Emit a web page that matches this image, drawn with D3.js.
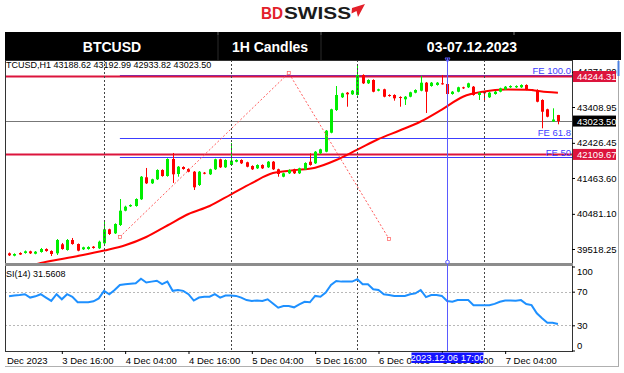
<!DOCTYPE html>
<html>
<head>
<meta charset="utf-8">
<script src="https://cdn.jsdelivr.net/npm/d3@7"></script>
<style>
  body { margin: 0; background: #fff; }
  svg { display: block; }
  text { font-family: 'Liberation Sans', Arial, sans-serif; }
</style>
</head>
<body>
<svg id="chart" width="624" height="373"></svg>
<script>
// hourly bars, first one 3 Dec 06:00
var firstBar = new Date(Date.UTC(2023, 11, 3, 6))

var open = [39400, 39335, 39409, 39409, 39455, 39389, 39436, 39518, 39463, 39400, 39647, 39491, 39765, 39655, 39510, 39518, 39581, 39537,
  39674, 40058, 39948, 40176, 40568, 40688, 40696, 40880, 41483, 41318, 41428, 41683, 41518, 41984, 41573, 41765, 41710, 41636, 41272, 41609,
  41565, 41702, 41976, 41757, 41820, 41910, 41957, 41894, 41792, 41729, 41820, 41757, 41910, 41702, 41499, 41592, 41702, 41592, 41702, 41910,
  41866, 42140, 42184, 42705, 43327, 43675, 43801, 43757, 43738, 44286, 44058, 44149, 43856, 43894, 43738, 43738, 43683, 43620, 43691, 43801,
  43856, 44075, 43984, 44012, 44058, 44039, 43765, 43828, 43949, 43949, 43965, 43738, 43828, 43675, 43765, 43828, 43894, 43949, 43949, 43949,
  44012, 43883, 43875, 43601, 43346, 43012, 43188.62]
var high = [39422, 39400, 39428, 39477, 39472, 39463, 39546, 39537, 39482, 39792, 39683, 39792, 39820, 39669, 39581, 39592, 39600, 39746,
  40266, 40074, 40222, 40888, 40704, 40743, 40907, 41518, 41738, 41444, 41702, 41702, 42003, 42149, 41792, 41784, 41729, 41655, 41655, 41628,
  41718, 41992, 41992, 41976, 42423, 41976, 41976, 41910, 41811, 41839, 41839, 41929, 41929, 41718, 41609, 41702, 41718, 41746, 41894, 42140,
  42203, 42266, 42779, 43362, 43984, 43801, 43820, 43875, 44532, 44305, 44168, 44168, 43910, 43910, 43757, 43757, 43702, 43710, 43828, 43894,
  44258, 44094, 44094, 44094, 44286, 44058, 43847, 43965, 43965, 44075, 43984, 43820, 43847, 43820, 43847, 43938, 43984, 44004, 44004, 44031,
  44031, 43902, 43894, 43620, 43362, 43373, 43192.99]
var low = [39326, 39318, 39354, 39389, 39381, 39373, 39417, 39444, 39326, 39354, 39499, 39472, 39636, 39455, 39491, 39499, 39527, 39518,
  39628, 39902, 39929, 40148, 40551, 40669, 40677, 40861, 41299, 41299, 41409, 41499, 41499, 41327, 41499, 41691, 41620, 41135, 41244, 41565,
  41546, 41683, 41738, 41738, 41801, 41894, 41847, 41757, 41683, 41710, 41710, 41738, 41683, 41499, 41483, 41573, 41573, 41573, 41683, 41801,
  41847, 42121, 42168, 42688, 43299, 43656, 43417, 43738, 43719, 44039, 44039, 43812, 43839, 43675, 43691, 43582, 43417, 43464, 43675, 43784,
  43839, 43245, 43965, 43993, 44020, 43746, 43746, 43812, 43902, 43929, 43719, 43601, 43601, 43656, 43746, 43812, 43875, 43929, 43929, 43929,
  43866, 43847, 43538, 42825, 43127, 42998, 42933.82]
var close = [39345, 39381, 39367, 39455, 39400, 39444, 39518, 39463, 39381, 39765, 39518, 39765, 39655, 39472, 39565, 39573, 39546, 39718,
  40058, 39929, 40203, 40568, 40677, 40724, 40888, 41499, 41318, 41428, 41683, 41518, 41984, 41565, 41773, 41710, 41636, 41209, 41636, 41581,
  41702, 41976, 41757, 41957, 41938, 41957, 41866, 41773, 41702, 41820, 41729, 41910, 41702, 41573, 41592, 41683, 41592, 41729, 41874, 41820,
  42184, 42250, 42760, 43346, 43738, 43784, 43757, 43856, 44286, 44058, 44149, 43828, 43894, 43691, 43710, 43647, 43664, 43691, 43812, 43875,
  44075, 43828, 44075, 44075, 44039, 43765, 43828, 43949, 43921, 44058, 43738, 43801, 43784, 43801, 43828, 43921, 43965, 43984, 43984, 44012,
  43883, 43866, 43554, 43280, 43143, 43066, 43023.50]
var rsi = [64.5, 65.5, 66, 67, 63, 64.5, 67, 63, 59, 67, 61, 67, 64, 57.5, 57.4, 57.4, 58.5, 62,
  71, 67, 72, 78, 79, 79.5, 80, 85.5, 81, 82, 83, 79, 82, 71, 72, 71, 67, 59.5, 63, 64,
  64, 67, 63, 65.5, 65.5, 65, 63, 60, 59, 59.5, 59, 61, 56, 51, 53, 53, 51.4, 55, 58, 57.4,
  65, 64, 69, 78, 82.7, 82, 82, 82, 84.8, 78.8, 78.8, 72.8, 72, 67, 66, 65, 65, 65, 67, 68,
  72, 63.5, 66, 66, 65, 59, 58, 60, 60, 60, 54, 54, 54, 54, 55.5, 58, 59.5, 59.5, 59.3, 60,
  55.4, 54, 44.3, 38.3, 33, 33, 31.5608]

// moving average read at some bars (bar index -> value)
var maIndex = [4, 6, 10, 14, 18, 22, 26, 30, 34, 38, 42, 46, 50, 54, 58, 62, 66, 70, 74, 78, 82, 86, 90, 94, 98, 102, 104]
var maValues = [39052, 39135, 39244, 39354, 39477, 39620, 39847, 40162, 40477, 40696, 41011, 41326, 41600, 41675, 41746, 41957,
  42241, 42532, 42765, 43012, 43340, 43691, 43834, 43888, 43880, 43820, 43801]

var priceTicks = [39518.25, 40481.10, 41463.60, 42426.45, 43408.95, 44371.80]
var rsiTicks = [100, 70, 30, 0]
var rsiLevels = [70, 30]
var timeTicks = [
  new Date(Date.UTC(2023, 11, 3, 4)), new Date(Date.UTC(2023, 11, 3, 16)),
  new Date(Date.UTC(2023, 11, 4, 4)), new Date(Date.UTC(2023, 11, 4, 16)),
  new Date(Date.UTC(2023, 11, 5, 4)), new Date(Date.UTC(2023, 11, 5, 16)),
  new Date(Date.UTC(2023, 11, 6, 4)), new Date(Date.UTC(2023, 11, 6, 16)),
  new Date(Date.UTC(2023, 11, 7, 4))
]
var hLines = [44244.31, 42109.67]
var lastPrice = 43023.50
var crossTime = new Date(Date.UTC(2023, 11, 6, 17))
// fibo expansion anchors (bar index, price)
var fiboIndex = [21, 53, 72]
var fiboPrice = [39850, 44341, 39792]
var feLevels = [100, 61.8, 50]

var headers = [
  { text: 'BTCUSD', x: 112 },
  { text: '1H Candles', x: 270 },
  { text: '03-07.12.2023', x: 472 }
]

var svg = d3.select('#chart')
var left = 5
var right = 572
var priceTop = 60
var priceBottom = 263
var rsiTop = 266.5
var rsiBottom = 350.5

var x = d3.scaleUtc()
  .domain([new Date(Date.UTC(2023, 11, 3, 5, 14)), new Date(Date.UTC(2023, 11, 7, 16, 40))])
  .range([left, right])
var y = d3.scaleLinear()
  .domain([39134.55, 44696.75])
  .range([priceBottom, priceTop])
var ry = d3.scaleLinear()
  .domain([0, 100])
  .range([rsiBottom, rsiTop])

var barTime = function (i) { return d3.utcHour.offset(firstBar, i) }

var defs = svg.append('defs')
defs.append('clipPath').attr('id', 'clipPrice')
  .append('rect').attr('x', left).attr('y', priceTop).attr('width', right - left).attr('height', priceBottom - priceTop)
defs.append('clipPath').attr('id', 'clipRsi')
  .append('rect').attr('x', left).attr('y', 266).attr('width', right - left).attr('height', 85)
defs.append('clipPath').attr('id', 'clipTime')
  .append('rect').attr('x', left + 1).attr('y', 350).attr('width', 615).attr('height', 20)

// logo
svg.append('text')
  .attr('x', 261)
  .attr('y', 18.5)
  .attr('font-size', 16)
  .attr('font-weight', 'bold')
  .attr('fill', '#e3202a')
  .attr('textLength', 22)
  .attr('lengthAdjust', 'spacingAndGlyphs')
  .text('BD')
svg.append('text')
  .attr('x', 284)
  .attr('y', 18.5)
  .attr('font-size', 16)
  .attr('font-weight', 'bold')
  .attr('fill', '#1b1b1b')
  .attr('textLength', 67)
  .attr('lengthAdjust', 'spacingAndGlyphs')
  .text('SWISS')
svg.append('path')
  .attr('d', 'M352,8 L365,4 L358,17 L356.5,11 L351.5,13.5 Z')
  .attr('fill', '#e3202a')

// header bar
svg.append('rect')
  .attr('x', 5).attr('y', 32).attr('width', 616).attr('height', 28)
  .attr('fill', '#000')
svg.selectAll('.divider')
  .data([218, 321, 514])
  .join('line')
  .attr('class', 'divider')
  .attr('x1', (d) => d).attr('x2', (d) => d)
  .attr('y1', 32).attr('y2', 35)
  .attr('stroke', '#777')
svg.selectAll('.divider2')
  .data([218, 321])
  .join('line')
  .attr('class', 'divider2')
  .attr('x1', (d) => d).attr('x2', (d) => d)
  .attr('y1', 32).attr('y2', 60)
  .attr('stroke', '#2a2a2a')
svg.selectAll('.head')
  .data(headers)
  .join('text')
  .attr('class', 'head')
  .attr('x', (d) => d.x)
  .attr('y', 52)
  .attr('text-anchor', 'middle')
  .attr('fill', '#fff')
  .attr('font-size', 14)
  .attr('font-weight', 'bold')
  .text((d) => d.text)

// price panel
var price = svg.append('g').attr('clip-path', 'url(#clipPrice)')

var days = d3.utcDays(x.domain()[0], x.domain()[1])

// period separators over both panels
svg.append('g')
  .selectAll('line')
  .data(days)
  .join('line')
  .attr('x1', (d) => Math.round(x(d)) + 0.5)
  .attr('x2', (d) => Math.round(x(d)) + 0.5)
  .attr('y1', priceTop)
  .attr('y2', 351)
  .attr('stroke', '#444')
  .attr('stroke-dasharray', '2,2')

price.append('line')
  .attr('x1', left).attr('x2', right)
  .attr('y1', Math.round(y(lastPrice)) + 0.5)
  .attr('y2', Math.round(y(lastPrice)) + 0.5)
  .attr('stroke', '#777')

// fibo expansion levels
var fiboRange = fiboPrice[1] - fiboPrice[0]
var feData = feLevels.map(function (r) {
  return { r: r, p: fiboPrice[2] + fiboRange * r / 100 }
})
price.selectAll('.fe')
  .data(feData)
  .join('line')
  .attr('class', 'fe')
  .attr('x1', x(barTime(fiboIndex[0])))
  .attr('x2', right)
  .attr('y1', (d) => Math.round(y(d.p)) + 0.5)
  .attr('y2', (d) => Math.round(y(d.p)) + 0.5)
  .attr('stroke', '#3c3cff')

price.selectAll('.hline')
  .data(hLines)
  .join('line')
  .attr('class', 'hline')
  .attr('x1', left).attr('x2', right)
  .attr('y1', (d) => y(d))
  .attr('y2', (d) => y(d))
  .attr('stroke', '#dc143c')
  .attr('stroke-width', 2)

price.selectAll('.felabel')
  .data(feData)
  .join('text')
  .attr('class', 'felabel')
  .attr('x', right - 1)
  .attr('y', (d) => y(d.p) - 1.5)
  .attr('text-anchor', 'end')
  .attr('font-size', 9.5)
  .attr('fill', '#3c3cff')
  .text((d) => 'FE ' + (d.r === 100 ? '100.0' : d.r))

// moving average
var ma = maIndex.map(function (d, i) { return { t: barTime(d), v: maValues[i] } })
price.append('path')
  .datum(ma)
  .attr('fill', 'none')
  .attr('stroke', '#ff0000')
  .attr('stroke-width', 2)
  .attr('d', d3.line().curve(d3.curveMonotoneX).x((d) => x(d.t)).y((d) => y(d.v)))

// candles
var candles = open.map(function (o, i) {
  return { t: barTime(i), o: o, h: high[i], l: low[i], c: close[i] }
})
var colorFor = function (d) { return d.c >= d.o ? '#00ee00' : '#ff0000' }

var bar = price.append('g')
  .selectAll('g')
  .data(candles)
  .join('g')
  .attr('transform', (d) => 'translate(' + Math.round(x(d.t)) + ',0)')
bar.append('line')
  .attr('x1', 0.5).attr('x2', 0.5)
  .attr('y1', (d) => y(d.h))
  .attr('y2', (d) => y(d.l))
  .attr('stroke', colorFor)
bar.append('rect')
  .attr('x', -1)
  .attr('width', 3)
  .attr('y', (d) => y(Math.max(d.o, d.c)))
  .attr('height', (d) => Math.max(1, Math.abs(y(d.o) - y(d.c))))
  .attr('fill', colorFor)

// fibo dotted trend
var fibo = fiboIndex.map(function (d, i) { return { t: barTime(d), v: fiboPrice[i] } })
price.append('path')
  .datum(fibo)
  .attr('fill', 'none')
  .attr('stroke', '#ff5c5c')
  .attr('stroke-dasharray', '2,2')
  .attr('d', d3.line().x((d) => x(d.t)).y((d) => y(d.v)))
price.selectAll('.anchor')
  .data(fibo)
  .join('rect')
  .attr('class', 'anchor')
  .attr('x', (d) => x(d.t) - 1.5)
  .attr('y', (d) => y(d.v) - 1.5)
  .attr('width', 3).attr('height', 3)
  .attr('fill', '#fff')
  .attr('stroke', '#ff5c5c')
  .attr('stroke-width', 0.7)

price.append('text')
  .attr('x', 6)
  .attr('y', 67.5)
  .attr('font-size', 9)
  .attr('fill', '#000')
  .text('TCUSD,H1  43188.62 43192.99 42933.82 43023.50')

// rsi panel
var rsiG = svg.append('g').attr('clip-path', 'url(#clipRsi)')
rsiG.selectAll('.level')
  .data(rsiLevels)
  .join('line')
  .attr('class', 'level')
  .attr('x1', left).attr('x2', right)
  .attr('y1', (d) => Math.round(ry(d)) + 0.5)
  .attr('y2', (d) => Math.round(ry(d)) + 0.5)
  .attr('stroke', '#b8b8b8')
  .attr('stroke-dasharray', '2,2')
rsiG.append('path')
  .datum(rsi)
  .attr('fill', 'none')
  .attr('stroke', '#1e90ff')
  .attr('stroke-width', 2)
  .attr('d', d3.line().x((d, i) => x(barTime(i))).y((d) => ry(d)))
rsiG.append('text')
  .attr('x', 6)
  .attr('y', 276.5)
  .attr('font-size', 9)
  .attr('fill', '#000')
  .text('SI(14) 31.5608')

// frames
svg.append('rect')
  .attr('x', left + 0.5).attr('y', priceTop + 0.5)
  .attr('width', right - left).attr('height', 351 - priceTop)
  .attr('fill', 'none')
  .attr('stroke', '#333')
svg.append('rect')
  .attr('x', left).attr('y', 263)
  .attr('width', right - left + 1).attr('height', 3)
  .attr('fill', '#8c8c8c')
svg.append('line')
  .attr('x1', 618.5).attr('x2', 618.5)
  .attr('y1', 60).attr('y2', 367)
  .attr('stroke', '#aaa')
svg.append('line')
  .attr('x1', 618.5).attr('x2', 618.5)
  .attr('y1', 61).attr('y2', 76)
  .attr('stroke', '#4a7fe0')
  .attr('stroke-width', 2)
svg.append('line')
  .attr('x1', left).attr('x2', 619)
  .attr('y1', 366.5).attr('y2', 366.5)
  .attr('stroke', '#b0b0b0')

// price axis
var priceAxis = svg.append('g')
  .attr('transform', 'translate(' + right + ',0)')
  .call(d3.axisRight(y).tickValues(priceTicks).tickSize(3).tickPadding(2).tickFormat(d3.format('.2f')))
priceAxis.select('.domain').remove()
priceAxis.selectAll('text').attr('font-size', 9.5).attr('fill', '#000').attr('font-family', null)

var tags = hLines.map(function (p) { return { p: p, fill: '#dc143c' } })
tags.push({ p: lastPrice, fill: '#000' })
var tag = svg.append('g')
  .selectAll('g')
  .data(tags)
  .join('g')
  .attr('transform', (d) => 'translate(' + (right + 1) + ',' + y(d.p) + ')')
tag.append('rect')
  .attr('x', 0).attr('y', -5.5)
  .attr('width', 43).attr('height', 11)
  .attr('fill', (d) => d.fill)
tag.append('text')
  .attr('x', 4)
  .attr('y', 3.5)
  .attr('font-size', 9.5)
  .attr('fill', '#fff')
  .text((d) => d3.format('.2f')(d.p))

// rsi axis
var rsiAxis = svg.append('g')
  .attr('transform', 'translate(' + right + ',0)')
  .call(d3.axisRight(ry).tickValues(rsiTicks).tickSize(3).tickPadding(2))
rsiAxis.select('.domain').remove()
rsiAxis.selectAll('text')
  .attr('font-size', 9.5)
  .attr('fill', '#000')
  .attr('font-family', null)
  .attr('y', (d) => d === 100 ? 5 : d === 0 ? -5 : 0)

// time axis
var timeFormat = d3.utcFormat('%-d %b %H:%M')
var timeAxis = svg.append('g')
  .attr('clip-path', 'url(#clipTime)')
  .append('g')
  .attr('transform', 'translate(0,351)')
  .call(d3.axisBottom(x).tickValues(timeTicks).tickSize(3).tickPadding(3)
    .tickFormat((d, i) => i === 0 ? d3.utcFormat('%-d %b %Y')(d) : timeFormat(d)))
timeAxis.select('.domain').remove()
timeAxis.selectAll('text')
  .attr('font-size', 9.5)
  .attr('fill', '#000')
  .attr('font-family', null)
  .attr('text-anchor', 'start')

// vertical crosshair
var cx = Math.round(x(crossTime)) + 0.5
svg.append('line')
  .attr('x1', cx).attr('x2', cx)
  .attr('y1', 58).attr('y2', 351)
  .attr('stroke', '#5a5aff')
svg.append('path')
  .attr('d', 'M' + (cx - 2.5) + ',58 L' + (cx + 2.5) + ',58 L' + cx + ',62 Z')
  .attr('fill', 'none')
  .attr('stroke', '#5a5aff')
svg.append('circle')
  .attr('cx', cx).attr('cy', priceBottom - 1)
  .attr('r', 1.8)
  .attr('fill', '#fff')
  .attr('stroke', '#5a5aff')
svg.append('rect')
  .attr('x', cx - 36).attr('y', 352.5)
  .attr('width', 72).attr('height', 10.5)
  .attr('fill', '#1414ff')
svg.append('text')
  .attr('x', cx)
  .attr('y', 361.2)
  .attr('text-anchor', 'middle')
  .attr('font-size', 9.5)
  .attr('fill', '#fff')
  .text(d3.utcFormat('%Y.%m.%d %H:%M')(crossTime))
</script>
</body>
</html>
